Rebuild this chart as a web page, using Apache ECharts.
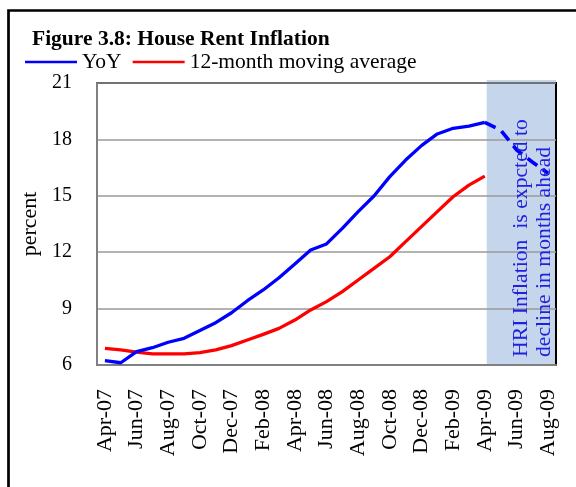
<!DOCTYPE html>
<html>
<head>
<meta charset="utf-8">
<script src="https://cdn.jsdelivr.net/npm/echarts@6/dist/echarts.min.js"></script>
<style>html,body{margin:0;padding:0;background:#fff;}#c{width:576px;height:487px;}</style>
</head>
<body>
<div id="c"></div>
<script>
const months = ['Apr-07','May-07','Jun-07','Jul-07','Aug-07','Sep-07','Oct-07','Nov-07','Dec-07','Jan-08','Feb-08','Mar-08',
  'Apr-08','May-08','Jun-08','Jul-08','Aug-08','Sep-08','Oct-08','Nov-08','Dec-08','Jan-09','Feb-09','Mar-09',
  'Apr-09','May-09','Jun-09','Jul-09','Aug-09'];
const yoy = [6.23,6.12,6.71,6.92,7.21,7.42,7.83,8.25,8.78,9.42,9.99,10.64,11.37,12.12,12.44,13.27,14.16,14.99,16.02,16.9,17.67,18.29,18.59,18.71,18.91,null,null,null,null];
const movingAvg = [6.89,6.8,6.69,6.59,6.59,6.59,6.66,6.8,7.03,7.33,7.63,7.95,8.39,8.93,9.37,9.9,10.52,11.14,11.76,12.56,13.36,14.16,14.95,15.57,16.05,null,null,null,null];
const yoyExpected = [null,null,null,null,null,null,null,null,null,null,null,null,null,null,null,null,null,null,null,null,null,null,null,null,18.91,18.5,17.45,16.8,16.2];
const yTicks = {min: 6, max: 21, interval: 3};
const titleText = 'Figure 3.8: House Rent Inflation';
const noteLines = ['HRI Inflation  is expcted to', 'decline in months ahead'];

const FONT = '"Liberation Serif", "Times New Roman", serif';
const chart = echarts.init(document.getElementById('c'), null, {renderer: 'canvas'});
const option = {
  animation: false,
  backgroundColor: '#fff',
  title: {
    text: titleText, left: 27, top: 23, padding: 5,
    textStyle: {fontFamily: FONT, fontSize: 21.5, fontWeight: 'bold', color: '#000'}
  },
  legend: {
    data: [{name: 'YoY', icon: 'rect'}, {name: '12-month moving average', icon: 'rect'}],
    left: 25, top: 51, padding: 0, itemWidth: 52, itemHeight: 2.5, itemGap: 11,
    textStyle: {fontFamily: FONT, fontSize: 21.5, color: '#000'}
  },
  grid: {left: 97, right: 20, top: 83, bottom: 122, show: true, borderColor: '#000', borderWidth: 2, backgroundColor: 'transparent'},
  xAxis: {
    type: 'category', data: months, boundaryGap: true,
    axisLine: {lineStyle: {color: '#808080', width: 2}},
    axisTick: {show: false},
    axisLabel: {interval: 1, rotate: 90, margin: 24, fontFamily: FONT, fontSize: 22, color: '#000'}
  },
  yAxis: {
    type: 'value', min: yTicks.min, max: yTicks.max, interval: yTicks.interval,
    name: 'percent', nameLocation: 'middle', nameRotate: 90, nameGap: 56,
    nameTextStyle: {fontFamily: FONT, fontSize: 22, color: '#000'},
    axisLine: {show: true, lineStyle: {color: '#808080', width: 2}},
    axisTick: {show: false},
    axisLabel: {margin: 25, fontFamily: FONT, fontSize: 20, color: '#000'},
    splitLine: {lineStyle: {color: '#9a9a9a', width: 1.5}}
  },
  series: [
    {name: 'YoY', type: 'line', data: yoy, symbol: 'none', color: '#0000ff', lineStyle: {color: '#0000ff', width: 3.3}, z: 4},
    {name: '12-month moving average', type: 'line', data: movingAvg, symbol: 'none', color: '#ff0000', lineStyle: {color: '#ff0000', width: 3.3}, z: 3},
    {name: 'YoY expected', type: 'line', data: yoyExpected, symbol: 'none', color: '#0000ff', lineStyle: {color: '#0000ff', width: 3.6, type: [12, 7]}, z: 4}
  ]
};
chart.setOption(option);

const startPx = chart.convertToPixel({xAxisIndex: 0}, 'Apr-09') + 2;
const bottomPx = chart.convertToPixel({yAxisIndex: 0}, yTicks.min);
const topPx = chart.convertToPixel({yAxisIndex: 0}, yTicks.max);
const rightPx = chart.getWidth() - 20;
chart.setOption({
  graphic: [
    {type: 'rect', z: -1, shape: {x: startPx, y: topPx - 3, width: rightPx - startPx, height: bottomPx - topPx + 3},
     style: {fill: 'rgba(150,180,220,0.55)'}},
    {type: 'text', z: 10, x: startPx + 35, y: bottomPx - 8, rotation: Math.PI / 2,
     style: {text: noteLines[0], font: '21.7px ' + FONT, fill: '#2020dd', textAlign: 'left', textVerticalAlign: 'middle'}},
    {type: 'text', z: 10, x: startPx + 58, y: bottomPx - 8, rotation: Math.PI / 2,
     style: {text: noteLines[1], font: '21.7px ' + FONT, fill: '#2020dd', textAlign: 'left', textVerticalAlign: 'middle'}},
    {type: 'rect', z: 10, shape: {x: 8.5, y: 10.5, width: 700, height: 700},
     style: {fill: 'none', stroke: '#000', lineWidth: 2.7}}
  ]
});
</script>
</body>
</html>
